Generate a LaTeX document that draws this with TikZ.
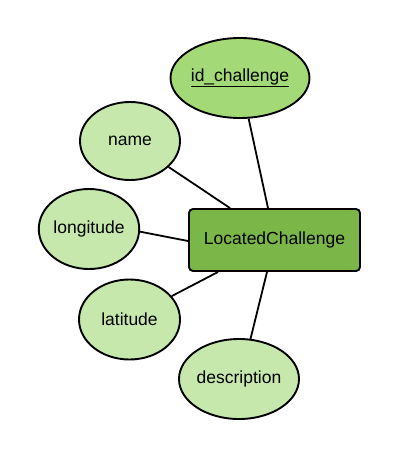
\documentclass[tikz,border=0pt]{standalone}
\usepackage{fontspec}
\setmainfont{Liberation Sans}
\usetikzlibrary{shapes.geometric}
\definecolor{attrfill}{HTML}{C7E8AC}
\definecolor{keyfill}{HTML}{A3D977}
\definecolor{entfill}{HTML}{7AB648}
\tikzset{
  attr/.style={ellipse, draw=black, line width=1.9pt, fill=attrfill, inner sep=0pt, font=\fontsize{17.5}{20}\selectfont},
  keyattr/.style={attr, fill=keyfill},
  entity/.style={rectangle, rounded corners=4pt, draw=black, line width=1.9pt, fill=entfill, inner sep=0pt, minimum width=171pt, minimum height=62pt, font=\fontsize{17.5}{20}\selectfont},
  conn/.style={draw=black, line width=1.8pt}
}
\begin{document}
\begin{tikzpicture}[x=1pt,y=-1pt]
\useasboundingbox (0,0) rectangle (400,460);
\node[entity] (e) at (274.5,240) {LocatedChallenge};
\node[keyattr, minimum width=116pt, minimum height=80pt] (id) at (240,78) {\underline{id\_challenge}};
\node[attr, minimum width=100pt, minimum height=78pt] (name) at (130,141) {name};
\node[attr, minimum width=100pt, minimum height=80pt] (lon) at (89,229) {longitude};
\node[attr, minimum width=101pt, minimum height=80pt] (lat) at (129.5,319.5) {latitude};
\node[attr, minimum width=120pt, minimum height=80pt] (desc) at (239,379) {description};
\draw[conn] (id.-78) -- ([xshift=-6.5pt]e.north);
\draw[conn] (name.-34.4) -- ([xshift=42pt]e.north west);
\draw[conn] (lon.-3.4) -- ([yshift=-1pt]e.west);
\draw[conn] (lat.29) -- ([xshift=30pt]e.south west);
\draw[conn] (desc.74.6) -- ([xshift=-7.5pt]e.south);
\end{tikzpicture}
\end{document}
